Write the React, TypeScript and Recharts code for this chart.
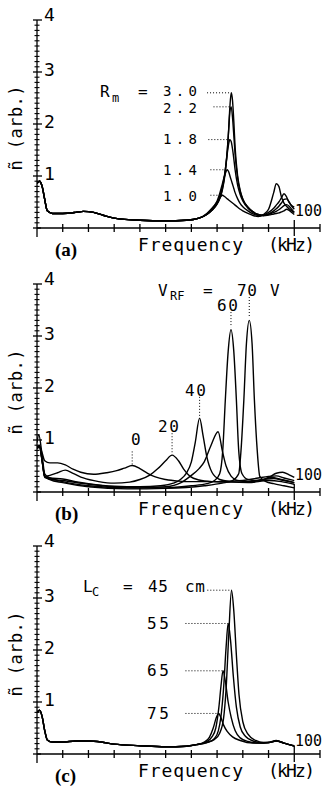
import React from 'react';
import { LineChart, Line, XAxis, YAxis, ReferenceLine } from 'recharts';

const MONO = '"DejaVu Sans Mono", monospace';
const SERIF = '"Liberation Serif", "Times New Roman", serif';

// axes
const xTicks = [0, 10, 20, 30, 40, 50, 60, 70, 80, 90, 100, 110];
const yTicks = [
  0, 0.1, 0.2, 0.3, 0.4, 0.5, 0.6, 0.7, 0.8, 0.9,
  1, 1.1, 1.2, 1.3, 1.4, 1.5, 1.6, 1.7, 1.8, 1.9,
  2, 2.1, 2.2, 2.3, 2.4, 2.5, 2.6, 2.7, 2.8, 2.9,
  3, 3.1, 3.2, 3.3, 3.4, 3.5, 3.6, 3.7, 3.8, 3.9, 4,
];
const yLabels = [1, 2, 3, 4];

// (a) R_m scan: shared low-frequency part + resonance part
const baseFreqA = [0, 1, 2, 3, 4, 6, 10, 15, 18, 22, 26, 30, 40, 50, 58, 63];
const baseAmpA = [0.86, 0.9, 0.8, 0.55, 0.33, 0.28, 0.28, 0.3, 0.32, 0.3, 0.24, 0.19, 0.15, 0.14, 0.15, 0.19];
const peakFreqA = [66, 68, 70, 71, 72, 73, 74, 74.5, 75, 75.5, 76, 76.5, 77, 78, 79, 80, 82, 84, 86, 88, 90, 92, 93, 94, 95, 96, 97, 98, 99, 100];
const rm30 = [0.26, 0.34, 0.46, 0.56, 0.72, 1.0, 1.5, 1.9, 2.35, 2.6, 2.45, 2.05, 1.55, 1.0, 0.72, 0.56, 0.4, 0.31, 0.26, 0.24, 0.25, 0.27, 0.28, 0.29, 0.31, 0.33, 0.36, 0.34, 0.3, 0.26];
const rm22 = [0.26, 0.34, 0.47, 0.57, 0.74, 1.03, 1.52, 1.88, 2.25, 2.33, 2.12, 1.78, 1.42, 0.95, 0.7, 0.55, 0.4, 0.31, 0.26, 0.24, 0.26, 0.3, 0.32, 0.35, 0.39, 0.43, 0.45, 0.42, 0.36, 0.3];
const rm18 = [0.26, 0.35, 0.48, 0.6, 0.78, 1.05, 1.45, 1.62, 1.7, 1.66, 1.52, 1.33, 1.12, 0.82, 0.64, 0.52, 0.38, 0.3, 0.25, 0.24, 0.27, 0.33, 0.37, 0.42, 0.48, 0.55, 0.56, 0.5, 0.42, 0.36];
const rm14 = [0.27, 0.36, 0.52, 0.66, 0.84, 1.02, 1.12, 1.08, 1.0, 0.92, 0.84, 0.76, 0.68, 0.56, 0.47, 0.41, 0.33, 0.27, 0.24, 0.25, 0.3, 0.38, 0.44, 0.5, 0.58, 0.66, 0.6, 0.49, 0.43, 0.4];
const rm10 = [0.28, 0.38, 0.5, 0.57, 0.63, 0.6, 0.56, 0.54, 0.52, 0.5, 0.48, 0.46, 0.44, 0.4, 0.36, 0.33, 0.28, 0.24, 0.22, 0.26, 0.36, 0.68, 0.85, 0.8, 0.6, 0.48, 0.42, 0.37, 0.33, 0.3];
const rmLabels = ['3.0', '2.2', '1.8', '1.4', '1.0'];
const rmPeakF = [75.5, 75.2, 75, 74, 72.3];
const rmPeakV = [2.6, 2.33, 1.7, 1.12, 0.63];
const rmLeaderF = [66.1, 68.6, 66.6, 67.4, 67.4];

// (b) V_RF scan
const v0Freq = [0, 1, 2, 3, 5, 8, 11, 14, 17, 22, 27, 31, 34, 37, 40, 43, 46, 50, 55, 60, 70, 80, 86, 90, 93, 96, 100];
const v0Amp = [0.84, 0.88, 0.75, 0.6, 0.56, 0.56, 0.52, 0.44, 0.38, 0.34, 0.37, 0.41, 0.46, 0.51, 0.45, 0.36, 0.29, 0.24, 0.21, 0.2, 0.2, 0.22, 0.27, 0.3, 0.31, 0.27, 0.22];
const v20Freq = [0, 1, 2, 3, 5, 8, 11, 14, 18, 24, 30, 36, 40, 44, 47, 50, 52.5, 55, 57, 59.5, 63, 68, 75, 82, 88, 92, 96, 100];
const v20Amp = [0.86, 0.9, 0.6, 0.3, 0.32, 0.37, 0.42, 0.36, 0.27, 0.2, 0.17, 0.19, 0.24, 0.33, 0.45, 0.6, 0.71, 0.6, 0.44, 0.3, 0.23, 0.2, 0.19, 0.2, 0.24, 0.26, 0.22, 0.18];
const v40Freq = [0, 1, 2, 3, 5, 10, 15, 20, 30, 40, 48, 53, 56, 58, 60, 61.5, 63.2, 64.5, 66, 68, 71, 75, 82, 90, 95, 100];
const v40Amp = [0.85, 0.88, 0.6, 0.3, 0.27, 0.25, 0.2, 0.16, 0.11, 0.1, 0.12, 0.17, 0.25, 0.36, 0.58, 0.95, 1.42, 1.1, 0.68, 0.38, 0.24, 0.2, 0.18, 0.22, 0.2, 0.15];
const v50Freq = [0, 1, 2, 3, 5, 10, 20, 30, 40, 50, 56, 60, 63, 65, 67.5, 70.4, 72, 73.5, 75.5, 78, 82, 87, 91, 95, 100];
const v50Amp = [0.84, 0.86, 0.6, 0.28, 0.25, 0.22, 0.15, 0.1, 0.08, 0.1, 0.18, 0.32, 0.45, 0.58, 0.88, 1.16, 0.8, 0.5, 0.3, 0.22, 0.2, 0.22, 0.28, 0.24, 0.18];
const v60Freq = [0, 0.7, 2, 3, 5, 10, 20, 35, 50, 60, 66, 69, 71, 72.2, 73.2, 74.3, 75.4, 76.5, 77.5, 78.4, 79.7, 82, 86, 90, 93, 95.5, 98, 100];
const v60Amp = [0.95, 1.1, 0.7, 0.35, 0.27, 0.2, 0.12, 0.08, 0.08, 0.12, 0.16, 0.22, 0.35, 0.8, 1.77, 2.7, 3.12, 2.7, 1.77, 0.8, 0.35, 0.24, 0.22, 0.28, 0.36, 0.38, 0.33, 0.28];
const v70Freq = [0, 1, 2, 3, 5, 10, 20, 35, 50, 65, 72, 76, 78.4, 79.3, 80.4, 81.4, 82.5, 83.6, 84.5, 85.6, 86.6, 89, 92, 96, 100];
const v70Amp = [0.85, 0.87, 0.6, 0.3, 0.24, 0.18, 0.1, 0.06, 0.07, 0.12, 0.17, 0.22, 0.35, 0.8, 1.77, 2.85, 3.3, 2.85, 1.77, 0.8, 0.3, 0.2, 0.16, 0.12, 0.08];
// vertical dotted leaders: frequency, from, to
const vrfLeaderF = [82.5, 75.4, 63.2, 52.5, 37];
const vrfLeaderTop = [3.75, 3.46, 1.83, 1.13, 0.78];
const vrfLeaderBottom = [3.36, 3.17, 1.45, 0.75, 0.52];

// (c) L_C scan
const baseFreqC = [0, 1, 2, 3, 4, 6, 10, 15, 20, 25, 30, 40, 50, 58, 62];
const baseAmpC = [0.8, 0.84, 0.72, 0.45, 0.27, 0.23, 0.23, 0.25, 0.25, 0.23, 0.19, 0.16, 0.14, 0.15, 0.18];
const lc45Freq = [66, 69, 71, 72.5, 73.5, 74.5, 75.6, 76.5, 77.5, 78.5, 80, 82, 85, 88, 90, 93, 96, 100];
const lc45Amp = [0.22, 0.28, 0.4, 0.68, 1.25, 2.25, 3.15, 2.75, 1.9, 1.15, 0.62, 0.38, 0.26, 0.22, 0.22, 0.25, 0.21, 0.15];
const lc55Freq = [66, 69, 70.5, 71.5, 72.5, 73.5, 74.3, 75.2, 76.3, 77.5, 79, 81, 84, 88, 90, 93, 96, 100];
const lc55Amp = [0.22, 0.3, 0.45, 0.72, 1.25, 2.05, 2.51, 2.2, 1.5, 0.9, 0.52, 0.34, 0.25, 0.21, 0.22, 0.25, 0.21, 0.15];
const lc65Freq = [66, 68, 69.5, 70.7, 71.5, 72.3, 73.2, 74.3, 75.5, 77, 79, 82, 86, 90, 93, 96, 100];
const lc65Amp = [0.24, 0.33, 0.5, 0.9, 1.3, 1.6, 1.4, 1.0, 0.7, 0.45, 0.31, 0.24, 0.21, 0.22, 0.25, 0.21, 0.15];
const lc75Freq = [65, 67, 68.5, 69.7, 70.6, 71.5, 72.5, 74, 76, 79, 84, 90, 93, 96, 100];
const lc75Amp = [0.23, 0.32, 0.5, 0.7, 0.78, 0.7, 0.56, 0.43, 0.33, 0.26, 0.21, 0.22, 0.26, 0.21, 0.16];
const lcLeaderF = [66.2, 57.7, 57.7, 57.7];
const lcPeakF = [75.6, 74.3, 72.3, 70.6];
const lcPeakV = [3.15, 2.51, 1.6, 0.78];

type Pt = { f: number; v: number };
const pts = (f: number[], v: number[]): Pt[] => f.map((x, i) => ({ f: x, v: v[i] }));

const seriesA = [rm30, rm22, rm18, rm14, rm10].map((s) => pts([...baseFreqA, ...peakFreqA], [...baseAmpA, ...s]));
const seriesB = [
  pts(v0Freq, v0Amp),
  pts(v20Freq, v20Amp),
  pts(v40Freq, v40Amp),
  pts(v50Freq, v50Amp),
  pts(v60Freq, v60Amp),
  pts(v70Freq, v70Amp),
];
const seriesC = [
  [lc45Freq, lc45Amp],
  [lc55Freq, lc55Amp],
  [lc65Freq, lc65Amp],
  [lc75Freq, lc75Amp],
].map(([f, v]) => pts([...baseFreqC, ...f], [...baseAmpC, ...v]));

type Seg = [{ x: number; y: number }, { x: number; y: number }];
const leadersA: Seg[] = rmPeakF.map((f, i) => [{ x: rmLeaderF[i], y: rmPeakV[i] }, { x: f, y: rmPeakV[i] }]);
const leadersB: Seg[] = vrfLeaderF.map((f, i) => [{ x: f, y: vrfLeaderTop[i] }, { x: f, y: vrfLeaderBottom[i] }]);
const leadersC: Seg[] = lcPeakF.map((f, i) => [{ x: lcLeaderF[i], y: lcPeakV[i] }, { x: f, y: lcPeakV[i] }]);

const XTick = (props: any) => {
  const { x, y, payload } = props;
  if (payload.value === 0) return <line x1={x} x2={x} y1={y} y2={y + 9} stroke="#000" strokeWidth={1.3} />;
  const h = payload.value === 100 ? 8 : 4;
  return <line x1={x} x2={x} y1={y - h} y2={y + h} stroke="#000" strokeWidth={1.3} />;
};

const YTick = (props: any) => {
  const { x, y, payload } = props;
  const v = payload.value;
  if (yLabels.includes(v)) {
    return (
      <g>
        <line x1={x - 4} x2={x + 5} y1={y} y2={y} stroke="#000" strokeWidth={1.3} />
        <text x={x + 7} y={v === 4 ? y + 1 : y + 4} fontFamily={MONO} fontSize={18} fill="#000">{v}</text>
      </g>
    );
  }
  if (v === 0) return <line x1={x - 4} x2={x + 4} y1={y} y2={y} stroke="#000" strokeWidth={1.3} />;
  return <line x1={x - 2.5} x2={x + 2.5} y1={y} y2={y} stroke="#000" strokeWidth={1.1} />;
};

const txt = { fontFamily: MONO, fill: '#000' };

function Panel({ top, series, leaders, letter, children }: { top: number; series: Pt[][]; leaders: Seg[]; letter: string; children: React.ReactNode }) {
  return (
    <div style={{ position: 'absolute', left: 0, top, width: 327, height: 262 }}>
      <LineChart width={327} height={262} margin={{ top: 20, right: 7, bottom: 33, left: 36 }}>
        <XAxis type="number" dataKey="f" domain={[0, 110]} ticks={xTicks} interval={0} tick={XTick} tickLine={false} tickSize={0} tickMargin={0} height={1} axisLine={{ stroke: '#000', strokeWidth: 1.3 }} allowDataOverflow />
        <YAxis type="number" domain={[0, 4]} ticks={yTicks} interval={0} tick={YTick} tickLine={false} tickSize={0} tickMargin={0} width={1} axisLine={{ stroke: '#000', strokeWidth: 1.3 }} allowDataOverflow />
        {leaders.map((s, i) => (
          <ReferenceLine key={i} segment={s} stroke="#000" strokeWidth={1} strokeDasharray="1 2" />
        ))}
        {series.map((d, i) => (
          <Line key={i} data={d} dataKey="v" type="monotone" stroke="#000" strokeWidth={1.4} dot={false} isAnimationActive={false} />
        ))}
      </LineChart>
      <svg width={327} height={262} style={{ position: 'absolute', left: 0, top: 0, pointerEvents: 'none' }}>
        <text {...txt} fontSize={17} x={16} y={128} textAnchor="middle" dominantBaseline="central" transform="rotate(-90 16 128)" textLength={85} lengthAdjust="spacing">ñ (arb.)</text>
        <text {...txt} fontSize={18} x={138} y={251} textLength={105} lengthAdjust="spacing">Frequency</text>
        <text {...txt} fontSize={18} x={268} y={251} textLength={47} lengthAdjust="spacing">(kHz)</text>
        <text fontFamily={SERIF} fontWeight="bold" fontSize={19} x={55} y={256} fill="#000">{letter}</text>
        {children}
      </svg>
    </div>
  );
}

export default function App() {
  return (
    <div style={{ position: 'absolute', left: 0, top: 0, width: 327, height: 786, background: '#fff' }}>
      <Panel top={0} series={seriesA} leaders={leadersA} letter="(a)">
        <text {...txt} fontSize={16} x={100} y={97}>R</text>
        <text {...txt} fontSize={12} x={112} y={102}>m</text>
        <text {...txt} fontSize={16} x={138} y={97}>=</text>
        {rmLabels.map((l, i) => (
          <text key={l} {...txt} fontSize={14} x={163} y={[96, 113, 144, 175, 201][i]} textLength={34} lengthAdjust="spacing">{l}</text>
        ))}
        <text {...txt} fontSize={16} x={295} y={216} textLength={27} lengthAdjust="spacingAndGlyphs">100</text>
      </Panel>
      <Panel top={264} series={seriesB} leaders={leadersB} letter="(b)">
        <text {...txt} fontSize={16} x={158} y={32}>V</text>
        <text {...txt} fontSize={12} x={170} y={36}>RF</text>
        <text {...txt} fontSize={16} x={203} y={32}>=</text>
        <text {...txt} fontSize={16} x={237} y={32} textLength={20}>70</text>
        <text {...txt} fontSize={16} x={270} y={32}>V</text>
        <text {...txt} fontSize={16} x={217} y={47} textLength={21}>60</text>
        <text {...txt} fontSize={16} x={185} y={132} textLength={21}>40</text>
        <text {...txt} fontSize={16} x={158} y={168} textLength={21}>20</text>
        <text {...txt} fontSize={16} x={131} y={181}>0</text>
        <text {...txt} fontSize={16} x={295} y={216} textLength={27} lengthAdjust="spacingAndGlyphs">100</text>
      </Panel>
      <Panel top={526} series={seriesC} leaders={leadersC} letter="(c)">
        <text {...txt} fontSize={16} x={83} y={66}>L</text>
        <text {...txt} fontSize={12} x={92} y={70}>C</text>
        <text {...txt} fontSize={16} x={123} y={66}>=</text>
        <text {...txt} fontSize={16} x={148} y={66} textLength={20}>45</text>
        <text {...txt} fontSize={16} x={185} y={66} textLength={20}>cm</text>
        <text {...txt} fontSize={16} x={147} y={103} textLength={22}>55</text>
        <text {...txt} fontSize={16} x={147} y={150} textLength={22}>65</text>
        <text {...txt} fontSize={16} x={147} y={193} textLength={22}>75</text>
        <text {...txt} fontSize={16} x={295} y={220} textLength={27} lengthAdjust="spacingAndGlyphs">100</text>
      </Panel>
    </div>
  );
}
